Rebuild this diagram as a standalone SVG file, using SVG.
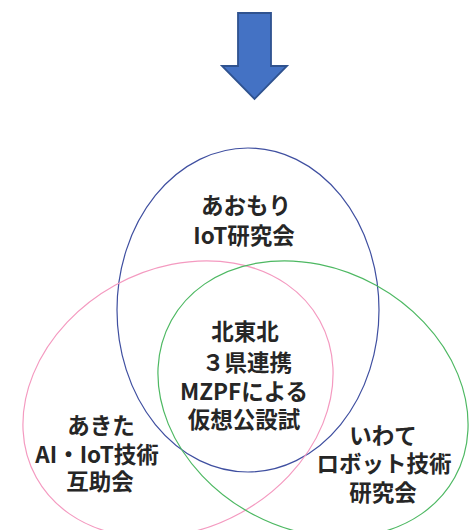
<svg xmlns="http://www.w3.org/2000/svg" width="472" height="530" viewBox="0 0 472 530">
<style>
.lbl{font-family:"Noto Sans CJK JP","Noto Sans",sans-serif;font-weight:bold;font-size:22.5px;fill:#262626;text-anchor:middle}
.ell{fill:none;stroke-width:1.2}
</style>
<rect width="472" height="530" fill="#ffffff"/>
<g id="arrow">
<polygon points="238,13 271,13 271,66 287,66 254.5,99 222,66 238,66" fill="#4472C4" stroke="#2F528F" stroke-width="1.8" stroke-linejoin="miter"/>
</g>
<g id="connectors"></g>
<g id="aomori">
<ellipse class="ell" cx="248" cy="310" rx="131" ry="162" stroke="#3F4FA0"/>
<text class="lbl" x="246" y="214">あおもり</text>
<text class="lbl" x="244" y="244">IoT研究会</text>
</g>
<g id="akita">
<ellipse class="ell" cx="178" cy="399" rx="162" ry="130" transform="rotate(-29 178 399)" stroke="#F49AC0"/>
<text class="lbl" x="101" y="434">あきた</text>
<text class="lbl" x="97" y="463">AI・IoT技術</text>
<text class="lbl" x="100" y="490">互助会</text>
</g>
<g id="iwate">
<ellipse class="ell" cx="313" cy="399" rx="162" ry="130" transform="rotate(29 313 399)" stroke="#4DB862"/>
<text class="lbl" x="383" y="444">いわて</text>
<text class="lbl" x="384" y="472">ロボット技術</text>
<text class="lbl" x="383" y="501">研究会</text>
</g>
<g id="center">
<text class="lbl" x="245" y="340">北東北</text>
<text class="lbl" x="247" y="371">３県連携</text>
<text class="lbl" x="244" y="400">MZPFによる</text>
<text class="lbl" x="244" y="428">仮想公設試</text>
</g>
</svg>
